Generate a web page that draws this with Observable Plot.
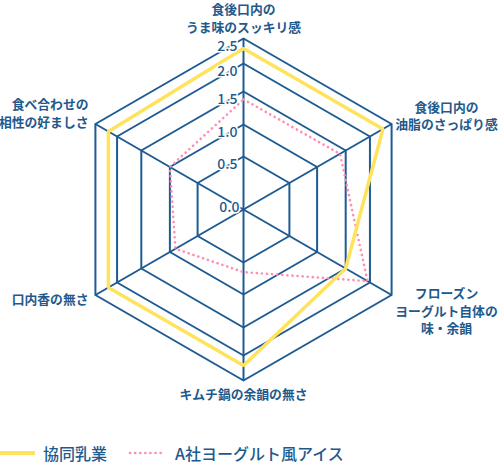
<!DOCTYPE html>
<html><head><meta charset="utf-8">
<script src="https://cdn.jsdelivr.net/npm/d3@7"></script>
<script src="https://cdn.jsdelivr.net/npm/@observablehq/plot@0.6"></script>
<style>
body{margin:0;background:#fff;font-family:"Noto Sans CJK JP","Noto Sans",sans-serif;}
#wrap{position:relative;width:500px;height:464px;overflow:hidden;}
#legend{position:absolute;left:0;top:443px;height:20px;line-height:20px;display:flex;align-items:center;font-size:16px;color:#1f5a8c;font-weight:500;white-space:nowrap;}
#legend span{line-height:20px;}
#legend svg{display:block;}
</style></head><body><div id="wrap"></div>
<script>
// ---- data ----
const axisLabels = [
  "食後口内の\nうま味のスッキリ感",
  "食後口内の\n油脂のさっぱり感",
  "フローズン\nヨーグルト自体の\n味・余韻",
  "キムチ鍋の余韻の無さ",
  "口内香の無さ",
  "食べ合わせの\n相性の好ましさ"
];
const seriesNames = ["協同乳業", "A社ヨーグルト風アイス"];
const kyodoValues = [2.3, 2.3, 1.5, 2.2, 2.2, 2.2];
const aShaValues = [1.38, 1.4, 1.95, 0.65, 0.9, 1.0];
const tickValues = [0, 0.5, 1, 1.5, 2, 2.5];
const tickLabels = ["0.0", "0.5", "1.0", "1.5", "2.0", "2.5"];

// ---- styling ----
const NAVY = "#1e5b93";
const TEXT = "#1f5a8c";
const YELLOW = "#ffe35c";
const PINK = "#ff8db4";

// radial scale (value -> pixel radius), piecewise as in the reference grid
const rScale = d3.scaleLinear().domain(tickValues).range([0, 53, 85, 118, 146, 171]);
const n = axisLabels.length;
const ang = i => i * 2 * Math.PI / n;
const px = (v, i) => rScale(v) * Math.sin(ang(i));
const py = (v, i) => rScale(v) * Math.cos(ang(i));

// grid rings
const rings = [];
tickValues.filter(t => t > 0).forEach(t => {
  for (let i = 0; i < n; i++) rings.push({t, x: px(t, i), y: py(t, i)});
});
const spokes = axisLabels.map((a, i) => ({x: px(2.5, i), y: py(2.5, i)}));

const seriesRows = (vals, name) => vals.map((v, i) => ({name, x: px(v, i), y: py(v, i)}));
const kyodo = seriesRows(kyodoValues, seriesNames[0]);
const aSha = seriesRows(aShaValues, seriesNames[1]);

const ticks = tickValues.map((t, i) => ({label: tickLabels[i], t, y: rScale(t)}));

// axis label placement
const labels = axisLabels.map((text, i) => {
  const s = Math.sin(ang(i)), c = Math.cos(ang(i));
  let group, x, y;
  if (Math.abs(s) < 1e-6) {
    group = "center"; x = 0;
    y = c > 0 ? rScale(2.5) + 21 : -(rScale(2.5) + 13);
  } else if (s > 0) {
    group = "right"; x = 203; y = c * 195.5 - 3;
  } else {
    group = "left"; x = -155; y = c * 186 + 4;
  }
  return {text, group, x, y};
});

const font = '"Noto Sans CJK JP", "Noto Sans", sans-serif';

const chart = Plot.plot({
  width: 500,
  height: 420,
  margin: 0,
  x: {domain: [-243, 257], axis: null},
  y: {domain: [-211, 209], axis: null},
  style: {fontFamily: font, background: "white"},
  marks: [
    Plot.line(rings, {x: "x", y: "y", z: "t", curve: "linear-closed", stroke: NAVY, strokeWidth: 2}),
    Plot.link(spokes, {x1: 0, y1: 0, x2: "x", y2: "y", stroke: NAVY, strokeWidth: 2}),
    Plot.line(aSha, {x: "x", y: "y", curve: "linear-closed", stroke: PINK, strokeWidth: 2.6, strokeDasharray: "0.1 5", strokeLinecap: "round"}),
    Plot.line(kyodo, {x: "x", y: "y", curve: "linear-closed", stroke: YELLOW, strokeWidth: 3.5, strokeLinejoin: "miter"}),
    Plot.text(ticks.filter(d => d.t > 0), {x: 0, y: "y", text: "label", textAnchor: "end", dx: -6, dy: 8, fill: TEXT, fontSize: 14, fontWeight: 500, stroke: "white", strokeWidth: 3}),
    Plot.text(ticks.filter(d => d.t === 0), {x: 0, y: "y", text: "label", textAnchor: "end", dx: -4, dy: -2, fill: TEXT, fontSize: 14, fontWeight: 500, stroke: "white", strokeWidth: 3}),
    Plot.text(labels.filter(d => d.group === "center"), {x: "x", y: "y", text: "text", textAnchor: "middle", lineAnchor: "middle", lineHeight: 1.36, fill: TEXT, fontSize: 12.8, fontWeight: 700}),
    Plot.text(labels.filter(d => d.group === "right"), {x: "x", y: "y", text: "text", textAnchor: "middle", lineAnchor: "middle", lineHeight: 1.37, fill: TEXT, fontSize: 12.8, fontWeight: 700}),
    Plot.text(labels.filter(d => d.group === "left"), {x: "x", y: "y", text: "text", textAnchor: "end", lineAnchor: "middle", lineHeight: 1.37, fill: TEXT, fontSize: 12.8, fontWeight: 700})
  ]
});

const wrap = document.getElementById("wrap");
wrap.appendChild(chart);

// legend
const legend = document.createElement("div");
legend.id = "legend";
legend.innerHTML =
  `<svg width="36" height="8"><line x1="0" x2="35" y1="4" y2="4" stroke="${YELLOW}" stroke-width="4"/></svg>` +
  `<span style="margin-left:7px">${seriesNames[0]}</span>` +
  `<svg width="36" height="8" style="margin-left:21px"><line x1="2" x2="34" y1="4" y2="4" stroke="${PINK}" stroke-width="2.6" stroke-dasharray="0.1 5" stroke-linecap="round"/></svg>` +
  `<span style="margin-left:11px">${seriesNames[1]}</span>`;
wrap.appendChild(legend);
</script>
</body></html>
